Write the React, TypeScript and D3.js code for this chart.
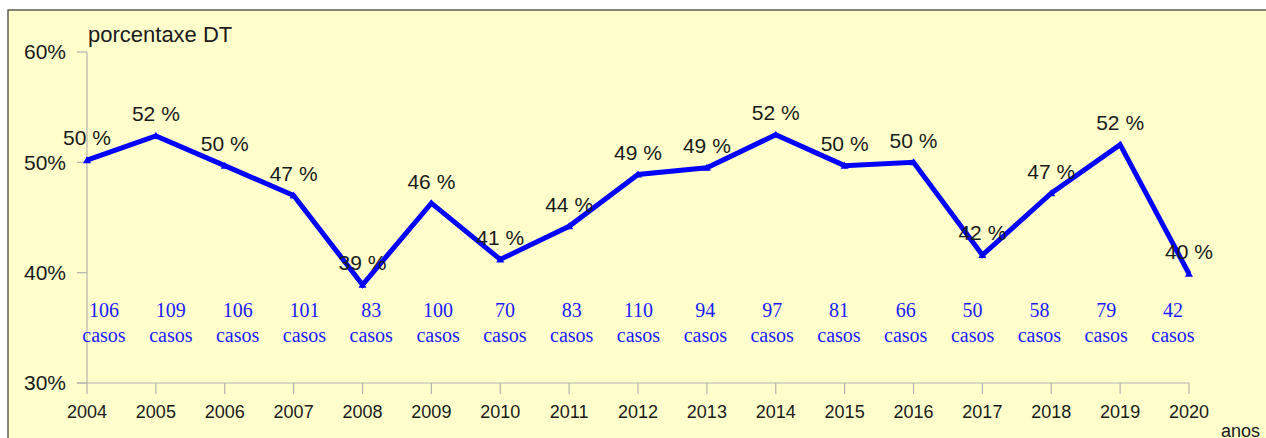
import React from "react";
import * as d3 from "d3";

const years = ["2004","2005","2006","2007","2008","2009","2010","2011","2012","2013","2014","2015","2016","2017","2018","2019","2020"];
const percent = [50.2, 52.4, 49.7, 47.0, 38.9, 46.3, 41.2, 44.2, 48.9, 49.5, 52.5, 49.7, 50.0, 41.6, 47.2, 51.6, 39.9];
const percentLabels = ["50 %","52 %","50 %","47 %","39 %","46 %","41 %","44 %","49 %","49 %","52 %","50 %","50 %","42 %","47 %","52 %","40 %"];
const cases = [106, 109, 106, 101, 83, 100, 70, 83, 110, 94, 97, 81, 66, 50, 58, 79, 42];
const yTicks = [30, 40, 50, 60];

export default function App() {
  const W = 1266, H = 438;
  const x = d3.scalePoint<string>().domain(years).range([87, 1189]);
  const xc = d3.scalePoint<string>().domain(years).range([104, 1173]);
  const y = d3.scaleLinear().domain([30, 60]).range([383, 52]);
  const line = d3.line<number>().x((_, i) => x(years[i])!).y(d => y(d));
  const sans = "'Liberation Sans', Arial, sans-serif";
  const serif = "'Liberation Serif', 'Times New Roman', serif";
  return (
    <svg width={W} height={H} style={{ position: "absolute", left: 0, top: 0 }}>
      <rect x={8} y={10} width={W} height={H} fill="#ffffcc" stroke="#333" strokeWidth={1.2} />
      <line x1={87} x2={87} y1={y(60)} y2={y(30)} stroke="#b3b3b3" strokeWidth={1.2} />
      <line x1={77} x2={1189} y1={y(30)} y2={y(30)} stroke="#b3b3b3" strokeWidth={1.2} />
      {yTicks.map(t => (
        <g key={t}>
          <line x1={77} x2={87} y1={y(t)} y2={y(t)} stroke="#b3b3b3" strokeWidth={1.2} />
          <text x={66} y={y(t)} dy="0.35em" textAnchor="end" fontFamily={sans} fontSize={21} fill="#1a1a1a">{t}%</text>
        </g>
      ))}
      {years.map(yr => (
        <g key={yr}>
          <line x1={x(yr)} x2={x(yr)} y1={y(30)} y2={y(30) + 11} stroke="#b3b3b3" strokeWidth={1.2} />
          <text x={x(yr)} y={412} dy="0.35em" textAnchor="middle" fontFamily={sans} fontSize={18} fill="#1a1a1a">{yr}</text>
        </g>
      ))}
      <text x={88} y={34} dy="0.35em" fontFamily={sans} fontSize={22} fill="#1a1a1a">porcentaxe DT</text>
      <text x={1221} y={437} fontFamily={sans} fontSize={18} fill="#1a1a1a">anos</text>
      <path d={line(percent) || ""} fill="none" stroke="#0000ff" strokeWidth={5} strokeLinejoin="miter" />
      {percent.map((p, i) => {
        const cx = x(years[i])!, cy = y(p);
        return <path key={"m" + i} d={`M${cx - 4},${cy + 3}L${cx + 4},${cy + 3}L${cx},${cy - 4}Z`} fill="#0000ff" />;
      })}
      {percent.map((p, i) => (
        <text key={"p" + i} x={x(years[i])} y={y(p) - 22} dy="0.35em" textAnchor="middle" fontFamily={sans} fontSize={21} fill="#1a1a1a">{percentLabels[i]}</text>
      ))}
      {cases.map((c, i) => (
        <g key={"c" + i}>
          <text x={xc(years[i])} y={310} dy="0.35em" textAnchor="middle" fontFamily={serif} fontSize={20} fill="#1a1aff">{c}</text>
          <text x={xc(years[i])} y={335} dy="0.35em" textAnchor="middle" fontFamily={serif} fontSize={20} fill="#1a1aff">casos</text>
        </g>
      ))}
    </svg>
  );
}
